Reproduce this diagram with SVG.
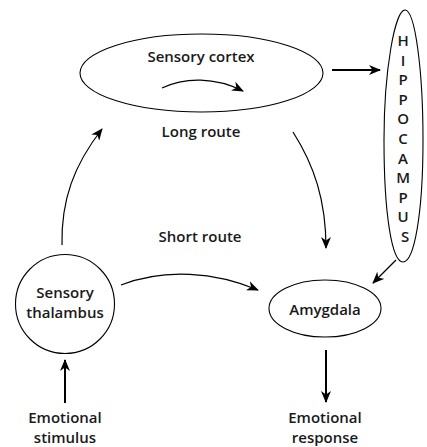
<svg xmlns="http://www.w3.org/2000/svg" width="427" height="447" viewBox="0 0 427 447">
<style>
.n{fill:#fff;stroke:#000;stroke-width:1.1}
.t{font-family:"Open Sans","Liberation Sans",sans-serif;font-size:15px;font-weight:600;fill:#1a1a1a;text-anchor:middle}
.c{fill:none;stroke:#000;stroke-width:1.2}
.s{fill:none;stroke:#000;stroke-width:2}
</style>
<defs>
<marker id="a" viewBox="0 0 12 10" refX="11" refY="5" markerWidth="12" markerHeight="10" markerUnits="userSpaceOnUse" orient="auto">
<path d="M0,0 L12,5 L0,10 L3.5,5 z" fill="#000"/>
</marker>
</defs>
<rect width="427" height="447" fill="#fff"/>
<g id="connectors">
<path class="c" d="M162,88 C185,77 215,77 243,91" marker-end="url(#a)"/>
<path class="s" d="M332,70 L380,70" marker-end="url(#a)"/>
<path class="c" d="M62,245 C61,200 74,165 102,129" marker-end="url(#a)"/>
<path class="c" d="M293,132 C314,165 326,200 326,248" marker-end="url(#a)"/>
<path class="c" d="M121,285 C165,268 215,272 258,290" marker-end="url(#a)"/>
<path class="c" d="M396,260 L373,283" marker-end="url(#a)"/>
<path class="s" d="M326,350 L326,402" marker-end="url(#a)"/>
<path class="s" d="M65,403 L65,360" marker-end="url(#a)"/>
</g>
<g id="sensory-cortex">
<ellipse class="n" cx="201.5" cy="73" rx="121.5" ry="39" style="fill:none"/>
<text class="t" x="201" y="62">Sensory cortex</text>
</g>
<g id="hippocampus">
<path class="n" d="M405,10 C395,10 384,70 384,140 C384,215 392,262 403,262 C414,262 423,215 423,140 C423,70 415,10 405,10 Z"/>
<text class="t" x="405">
<tspan x="405" y="46">H</tspan>
<tspan x="405" y="65.6">I</tspan>
<tspan x="405" y="85.2">P</tspan>
<tspan x="405" y="104.8">P</tspan>
<tspan x="405" y="124.4">O</tspan>
<tspan x="405" y="144">C</tspan>
<tspan x="405" y="163.6">A</tspan>
<tspan x="405" y="183.2">M</tspan>
<tspan x="405" y="202.8">P</tspan>
<tspan x="405" y="222.4">U</tspan>
<tspan x="405" y="242">S</tspan>
</text>
</g>
<g id="labels">
<text class="t" x="201" y="137">Long route</text>
<text class="t" x="200" y="242">Short route</text>
</g>
<g id="sensory-thalamus">
<circle class="n" cx="65" cy="304" r="49.5"/>
<text class="t" x="65" y="298">Sensory</text>
<text class="t" x="65" y="318">thalambus</text>
</g>
<g id="amygdala">
<ellipse class="n" cx="325" cy="308.5" rx="56" ry="28.5"/>
<text class="t" x="325" y="315">Amygdala</text>
</g>
<g id="emotional-stimulus">
<text class="t" x="65" y="423">Emotional</text>
<text class="t" x="65" y="443">stimulus</text>
</g>
<g id="emotional-response">
<text class="t" x="325" y="423">Emotional</text>
<text class="t" x="325" y="443">response</text>
</g>
</svg>
